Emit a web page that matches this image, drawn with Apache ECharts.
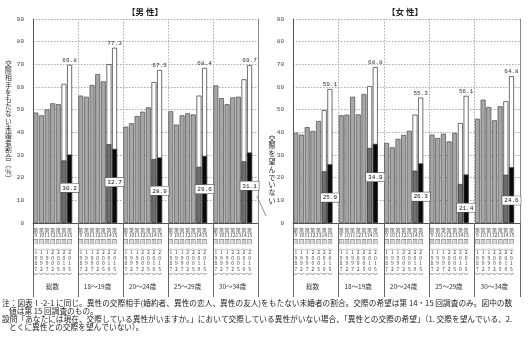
<!DOCTYPE html>
<html><head><meta charset="utf-8">
<script src="https://cdn.jsdelivr.net/npm/echarts@6/dist/echarts.min.js"></script>
<style>html,body{margin:0;padding:0;background:#fff}#c{width:530px;height:337px}</style>
</head><body><div id="c"></div>
<script>
// ---- data ----
const groups = ['総数', '18～19歳', '20～24歳', '25～29歳', '30～34歳'];
const roundNums = ['9', '10', '11', '12', '13', '14', '15'];
const roundYears = ['1987', '1992', '1997', '2002', '2005', '2010', '2015'];
const yTicks = [0, 10, 20, 30, 40, 50, 60, 70, 80, 90];

// 交際相手をもたない未婚者割合 (第9回〜第15回)
const maleAll  = [48.7, 47.5, 50.1, 52.8, 52.4, 61.4, 69.8];
const male1819 = [56.2, 55.7, 60.9, 65.7, 62.5, 70.1, 77.3];
const male2024 = [42.5, 44.0, 47.2, 49.1, 51.0, 62.2, 67.5];
const male2529 = [49.3, 43.4, 47.5, 48.4, 47.9, 56.2, 68.4];
const male3034 = [60.7, 55.1, 52.4, 55.4, 55.7, 63.4, 69.7];

const femaleAll  = [39.8, 39.0, 42.3, 40.6, 45.0, 49.8, 59.1];
const female1819 = [47.5, 47.8, 55.7, 47.9, 56.9, 60.4, 68.8];
const female2024 = [35.3, 33.4, 37.1, 38.9, 40.7, 47.8, 55.3];
const female2529 = [39.0, 37.5, 39.4, 36.0, 39.7, 44.1, 56.1];
const female3034 = [46.0, 54.4, 51.2, 45.3, 51.5, 53.7, 64.8];

// 交際を望んでいない (第14回, 第15回)
const maleNoWishAll  = [27.6, 30.2];
const maleNoWish1819 = [34.8, 32.7];
const maleNoWish2024 = [28.2, 28.9];
const maleNoWish2529 = [24.8, 29.6];
const maleNoWish3034 = [27.2, 31.1];

const femaleNoWishAll  = [22.8, 25.9];
const femaleNoWish1819 = [33.1, 34.9];
const femaleNoWish2024 = [23.1, 26.3];
const femaleNoWish2529 = [17.2, 21.4];
const femaleNoWish3034 = [21.3, 24.6];

// ---- build ----
const JP = '"Noto Sans CJK JP", sans-serif';
const NUM = '"Liberation Mono", "DejaVu Sans Mono", monospace';
const nRounds = roundNums.length;
const slots = [];
groups.forEach((g, gi) => {
  for (let r = 0; r < nRounds; r++) slots.push(gi + '|' + r);
  slots.push(gi + '|');
});
function slotLabel(v) {
  const r = v.split('|')[1];
  if (r === '') return '';
  const i = +r;
  return ['第', roundNums[i], '回', '︵'].concat(roundYears[i].split('')).concat(['︶']).join('\n');
}
function buildTotal(arrs) {
  const out = [];
  arrs.forEach(a => {
    a.forEach((v, r) => {
      const white = r >= nRounds - 2;
      out.push({
        value: v,
        itemStyle: white ? { color: '#ffffff', borderColor: '#333' } : { color: '#a6a6a6', borderColor: '#4a4a4a' },
        label: { show: r === nRounds - 1 }
      });
    });
    out.push('-');
  });
  return out;
}
function buildNoWish(arrs) {
  const out = [];
  arrs.forEach(a => {
    for (let r = 0; r < nRounds - 2; r++) out.push('-');
    a.forEach((v, k) => {
      out.push({
        value: v,
        itemStyle: { color: k === 0 ? '#6f6f6f' : '#0a0a0a' },
        label: { show: k === 1 }
      });
    });
    out.push('-');
  });
  return out;
}
const maleTotal = buildTotal([maleAll, male1819, male2024, male2529, male3034]);
const maleNoWish = buildNoWish([maleNoWishAll, maleNoWish1819, maleNoWish2024, maleNoWish2529, maleNoWish3034]);
const femaleTotal = buildTotal([femaleAll, female1819, female2024, female2529, female3034]);
const femaleNoWish = buildNoWish([femaleNoWishAll, femaleNoWish1819, femaleNoWish2024, femaleNoWish2529, femaleNoWish3034]);

const grids = [
  { left: 33, right: 272, top: 19, bottom: 114 },
  { left: 293, right: 10, top: 19, bottom: 114 }
];
function slotAxis(gi) {
  return {
    type: 'category', gridIndex: gi, data: slots, position: 'bottom',
    axisLine: { show: true, lineStyle: { color: '#555', width: 1 } },
    axisTick: { show: true, interval: (i) => i % (nRounds + 1) === 0, length: 74, lineStyle: { color: '#666', width: 1 } },
    axisLabel: { interval: 0, formatter: slotLabel, fontSize: 5, lineHeight: 5.6, color: '#444', margin: 4, fontFamily: JP },
    splitLine: { show: true, interval: (i) => i % (nRounds + 1) === 0, lineStyle: { color: '#aaa', type: [1.5, 1.5], width: 1 } }
  };
}
function groupAxis(gi) {
  return {
    type: 'category', gridIndex: gi, data: groups, position: 'bottom', offset: 58,
    axisLine: { show: false }, axisTick: { show: false }, splitLine: { show: false },
    axisLabel: { interval: 0, fontSize: 6.5, color: '#333', margin: 2, fontFamily: JP, padding: [0, 6, 0, 0] }
  };
}
function valAxis(gi, name) {
  return {
    type: 'value', gridIndex: gi, min: yTicks[0], max: yTicks[yTicks.length - 1], interval: yTicks[1] - yTicks[0],
    position: 'left',
    axisLine: { show: true, lineStyle: { color: '#555' } },
    axisTick: { show: false },
    axisLabel: { fontSize: 6, color: '#444', margin: 9, fontFamily: NUM },
    splitLine: { show: true, lineStyle: { color: '#aaa', type: [1.5, 1.5] } },
    name: name, nameLocation: 'middle', nameGap: 21, nameRotate: 0,
    nameTextStyle: { fontSize: 6.8, lineHeight: 7.2, color: '#333', fontFamily: JP }
  };
}
function rightAxis(gi) {
  return {
    type: 'value', gridIndex: gi, min: yTicks[0], max: yTicks[yTicks.length - 1], position: 'right',
    axisLine: { show: true, lineStyle: { color: '#888' } }, axisTick: { show: false },
    axisLabel: { show: false }, splitLine: { show: false }
  };
}
const yName = '交際相手をもたない未婚者割合︵％︶'.split('').join('\n');

function totalSeries(xi, yi, data) {
  return {
    type: 'bar', xAxisIndex: xi, yAxisIndex: yi, data: data, barWidth: '88%', barGap: '-100%',
    itemStyle: { borderWidth: 0.7 },
    label: { position: 'top', distance: 1.5, fontSize: 6, color: '#333', fontFamily: NUM, formatter: (p) => p.value.toFixed(1) },
    silent: true, animation: false
  };
}
function noWishSeries(xi, yi, data) {
  return {
    type: 'bar', xAxisIndex: xi, yAxisIndex: yi, data: data, barWidth: '88%', barGap: '-100%',
    itemStyle: { borderWidth: 0.7, borderColor: '#333' },
    label: { position: 'insideTop', distance: 29, fontSize: 6, color: '#111', fontFamily: NUM,
      backgroundColor: '#fff', borderColor: '#555', borderWidth: 0.6, padding: [1.5, 2, 1, 2],
      formatter: (p) => p.value.toFixed(1) },
    silent: true, animation: false, z: 3
  };
}

const note1 = '注：図表Ⅰ-2-1 に同じ。異性の交際相手(婚約者、異性の恋人、異性の友人)をもたない未婚者の割合。交際の希望は第 14・15 回調査のみ。図中の数';
const note2 = '値は第 15 回調査のもの。';
const note3 = '設問「あなたには現在、交際している異性がいますか。」において交際している異性がいない場合、「異性との交際の希望」（1. 交際を望んでいる、2.';
const note4 = 'とくに異性との交際を望んでいない）。';
const NOTE_FONT = '7.7px ' + JP;

const chart = echarts.init(document.getElementById('c'), null, { renderer: 'canvas' });
chart.setOption({
  animation: false,
  grid: grids,
  xAxis: [slotAxis(0), groupAxis(0), slotAxis(1), groupAxis(1)],
  yAxis: [valAxis(0, yName), rightAxis(0), valAxis(1, ''), rightAxis(1)],
  series: [
    totalSeries(0, 0, maleTotal), noWishSeries(0, 0, maleNoWish),
    totalSeries(2, 2, femaleTotal), noWishSeries(2, 2, femaleNoWish)
  ],
  graphic: [
    { type: 'text', x: 145, y: 12, style: { text: '【男 性】', font: 'bold 8.5px ' + JP, fill: '#222', align: 'center', verticalAlign: 'middle' } },
    { type: 'text', x: 405, y: 12, style: { text: '【女 性】', font: 'bold 8.5px ' + JP, fill: '#222', align: 'center', verticalAlign: 'middle' } },
    { type: 'text', x: 272, y: 134, style: { text: '交際を望んでいない'.split('').join('\n'), font: '7px ' + JP, lineHeight: 7.8, fill: '#222', align: 'center' } },
    { type: 'line', shape: { x1: 257, y1: 196, x2: 266, y2: 216 }, style: { stroke: '#444', lineWidth: 0.6 } },
    { type: 'text', x: 2, y: 303, style: { text: note1, font: NOTE_FONT, fill: '#222', verticalAlign: 'middle' } },
    { type: 'text', x: 9, y: 311, style: { text: note2, font: NOTE_FONT, fill: '#222', verticalAlign: 'middle' } },
    { type: 'text', x: 2, y: 319, style: { text: note3, font: NOTE_FONT, fill: '#222', verticalAlign: 'middle' } },
    { type: 'text', x: 9, y: 327, style: { text: note4, font: NOTE_FONT, fill: '#222', verticalAlign: 'middle' } }
  ]
});
</script></body></html>
